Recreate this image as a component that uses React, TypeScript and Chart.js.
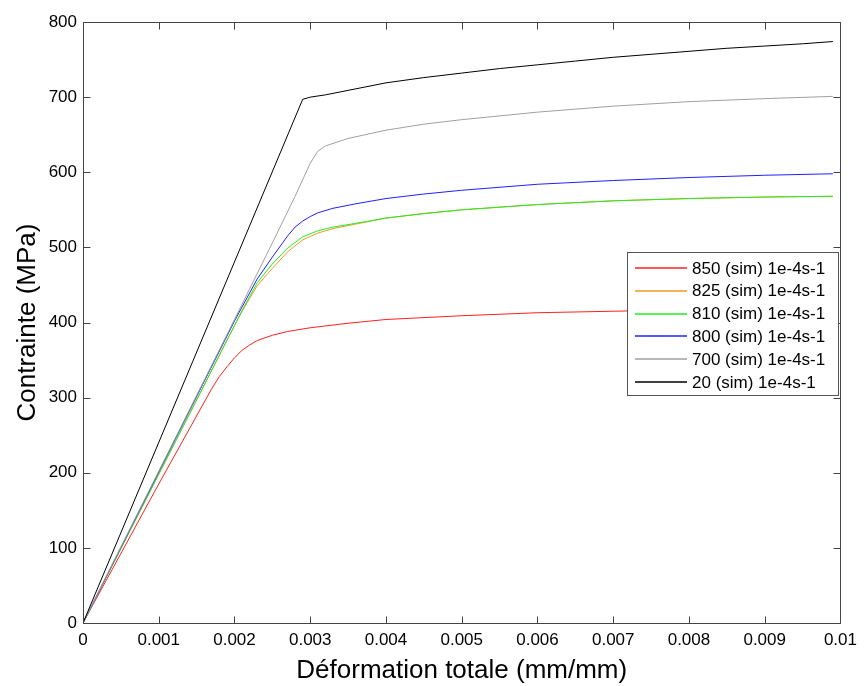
import React, { useEffect, useRef } from "react";
import { Chart, registerables } from "chart.js";

Chart.register(...registerables);

const seriesLabels = [
  "850 (sim) 1e-4s-1",
  "825 (sim) 1e-4s-1",
  "810 (sim) 1e-4s-1",
  "800 (sim) 1e-4s-1",
  "700 (sim) 1e-4s-1",
  "20 (sim) 1e-4s-1",
];
const seriesColors = ["#ff2020", "#f09a20", "#22ee22", "#2020ff", "#a0a0a0", "#000000"];

const strain850 = [0, 0.001, 0.0017, 0.0018, 0.0019, 0.002, 0.0021, 0.0022, 0.0023, 0.0025, 0.0027, 0.003, 0.0035, 0.004, 0.005, 0.006, 0.007, 0.008, 0.009, 0.0099];
const stress850 = [0, 185, 312, 328, 341, 353, 363, 370, 376, 383, 388, 393, 399, 404, 409, 413, 415, 417, 418, 419];

const strain825 = [0, 0.001, 0.002, 0.0021, 0.0023, 0.0025, 0.0027, 0.0029, 0.0031, 0.0033, 0.0036, 0.004, 0.0045, 0.005, 0.006, 0.007, 0.008, 0.009, 0.0099];
const stress825 = [0, 198, 396, 415, 449, 472, 494, 510, 519, 525, 531, 539, 545, 550, 557, 562, 565, 567, 568];

const strain810 = [0, 0.001, 0.002, 0.0021, 0.0023, 0.0025, 0.0027, 0.0029, 0.0031, 0.0033, 0.0036, 0.004, 0.0045, 0.005, 0.006, 0.007, 0.008, 0.009, 0.0099];
const stress810 = [0, 198, 396, 416, 453, 478, 499, 514, 522, 527, 532, 539, 545, 550, 557, 562, 565, 567, 568];

const strain800 = [0, 0.001, 0.002, 0.0023, 0.0025, 0.0027, 0.0028, 0.0029, 0.003, 0.0031, 0.0033, 0.0036, 0.004, 0.0045, 0.005, 0.006, 0.007, 0.008, 0.009, 0.0099];
const stress800 = [0, 201, 402, 458, 487, 515, 527, 535, 541, 546, 552, 558, 565, 571, 576, 584, 589, 593, 596, 598];

const strain700 = [0, 0.001, 0.002, 0.0025, 0.0028, 0.003, 0.0031, 0.0032, 0.0035, 0.004, 0.0045, 0.005, 0.006, 0.007, 0.008, 0.009, 0.0099];
const stress700 = [0, 202, 404, 506, 568, 612, 628, 635, 645, 656, 664, 670, 680, 688, 694, 698, 701];

const strain20 = [0, 0.0029, 0.003, 0.0032, 0.0035, 0.004, 0.0045, 0.005, 0.0055, 0.006, 0.0065, 0.007, 0.0075, 0.008, 0.0085, 0.009, 0.0095, 0.0099];
const stress20 = [0, 697, 700, 703, 709, 719, 726, 732, 738, 743, 748, 753, 757, 761, 765, 768, 771, 774];

const strainSeries = [strain850, strain825, strain810, strain800, strain700, strain20];
const stressSeries = [stress850, stress825, stress810, stress800, stress700, stress20];
const drawOrder = [5, 4, 3, 2, 1, 0];

const xTitle = "Déformation totale (mm/mm)";
const yTitle = "Contrainte (MPa)";
const FONT = "'Liberation Sans', Arial, sans-serif";

const framePlugin = {
  id: "frame",
  afterDraw(chart: any) {
    const { ctx, chartArea, scales } = chart;
    const { left, right, top, bottom } = chartArea;
    const L = Math.round(left) + 0.5;
    const R = Math.round(right) + 0.5;
    const T = Math.round(top) + 0.5;
    const B = Math.round(bottom) + 0.5;
    ctx.save();
    ctx.strokeStyle = "#444";
    ctx.lineWidth = 1;
    ctx.beginPath();
    ctx.rect(L, T, R - L, B - T);
    ctx.stroke();
    const tl = 7;
    ctx.beginPath();
    scales.x.ticks.forEach((t: any) => {
      const px = Math.round(scales.x.getPixelForValue(t.value)) + 0.5;
      ctx.moveTo(px, B);
      ctx.lineTo(px, B - tl);
      ctx.moveTo(px, T);
      ctx.lineTo(px, T + tl);
    });
    scales.y.ticks.forEach((t: any) => {
      const py = Math.round(scales.y.getPixelForValue(t.value)) + 0.5;
      ctx.moveTo(L, py);
      ctx.lineTo(L + tl, py);
      ctx.moveTo(R, py);
      ctx.lineTo(R - tl, py);
    });
    ctx.stroke();

    // legend
    const bx = 627.5, by = 252.5, bw = 211, bh = 143;
    ctx.fillStyle = "#fff";
    ctx.fillRect(bx, by, bw, bh);
    ctx.strokeStyle = "#555";
    ctx.strokeRect(bx, by, bw, bh);
    ctx.font = `17px ${FONT}`;
    ctx.textBaseline = "middle";
    ctx.textAlign = "left";
    seriesLabels.forEach((lab, i) => {
      const cy = 268 + i * 22.8;
      ctx.strokeStyle = seriesColors[i];
      ctx.lineWidth = 1.5;
      ctx.beginPath();
      ctx.moveTo(635, Math.round(cy));
      ctx.lineTo(687, Math.round(cy));
      ctx.stroke();
      ctx.fillStyle = "#000";
      ctx.fillText(lab, 692, cy + 1);
    });
    ctx.restore();
  },
};

export default function App() {
  const ref = useRef<HTMLCanvasElement | null>(null);
  useEffect(() => {
    document.body.style.margin = "0";
    const canvas = ref.current;
    if (!canvas) return;
    const datasets = seriesLabels.map((label, i) => ({
      label,
      data: strainSeries[i].map((x, j) => ({ x, y: stressSeries[i][j] })),
      borderColor: seriesColors[i],
      backgroundColor: seriesColors[i],
      borderWidth: 1,
      pointRadius: 0,
      showLine: true,
      fill: false,
      tension: 0,
      order: drawOrder[i],
    }));
    const chart = new Chart(canvas, {
      type: "scatter",
      data: { datasets },
      options: {
        responsive: false,
        animation: false,
        layout: { padding: { top: 22, right: 19, left: 0, bottom: 0 } },
        plugins: { legend: { display: false }, tooltip: { enabled: false } },
        scales: {
          x: {
            type: "linear",
            min: 0,
            max: 0.01,
            grid: { display: false, drawTicks: false },
            border: { display: false },
            ticks: {
              stepSize: 0.001,
              padding: 7,
              color: "#000",
              font: { family: FONT, size: 17 },
              maxRotation: 0,
              callback: (v: any) => String(Number(Number(v).toFixed(3))),
            },
            title: {
              display: true,
              text: xTitle,
              color: "#000",
              font: { family: FONT, size: 26 },
              padding: { top: 0, bottom: 0 },
            },
            afterFit: (s: any) => {
              s.height = 63;
            },
          },
          y: {
            type: "linear",
            min: 0,
            max: 800,
            grid: { display: false, drawTicks: false },
            border: { display: false },
            ticks: {
              stepSize: 100,
              padding: 6,
              color: "#000",
              font: { family: FONT, size: 17 },
            },
            title: {
              display: true,
              text: yTitle,
              color: "#000",
              font: { family: FONT, size: 26 },
              padding: { top: 12, bottom: 0 },
            },
            afterFit: (s: any) => {
              s.width = 83;
            },
          },
        },
      },
      plugins: [framePlugin],
    } as any);
    return () => chart.destroy();
  }, []);
  return (
    <div style={{ position: "fixed", left: 0, top: 0, width: 864, height: 686, background: "#fff" }}>
      <canvas ref={ref} width={864} height={686} style={{ display: "block" }} />
    </div>
  );
}
